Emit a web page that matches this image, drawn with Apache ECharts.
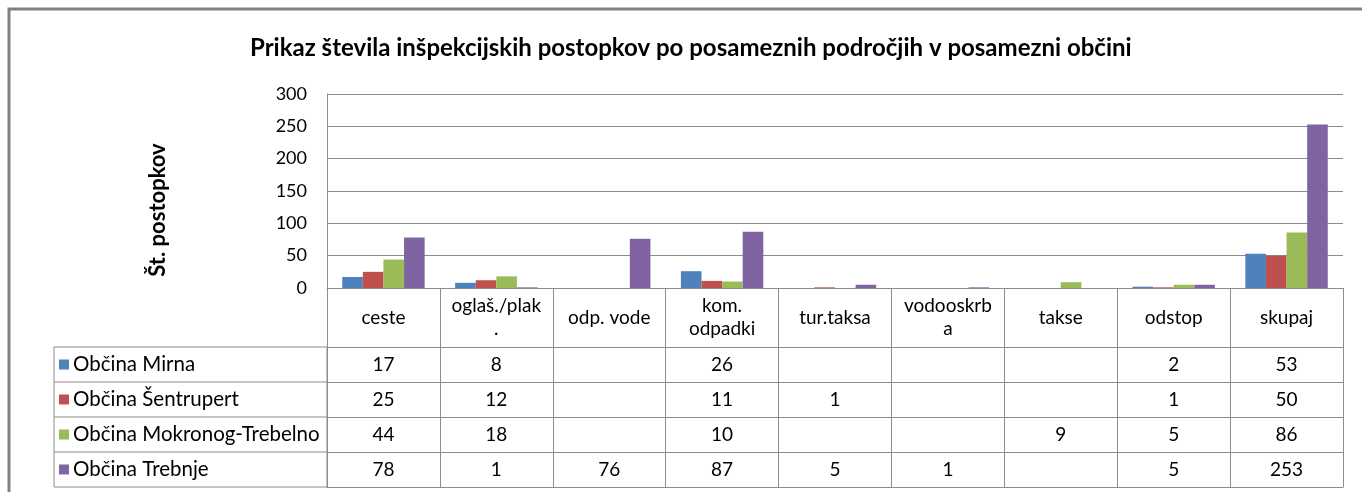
<!DOCTYPE html>
<html>
<head>
<meta charset="utf-8">
<script src="https://cdn.jsdelivr.net/npm/echarts@6/dist/echarts.min.js"></script>
<style>
  html, body { margin: 0; padding: 0; background: #fff; }
  #chart-panel { width: 1362px; height: 492px; }
</style>
</head>
<body>
<div id="chart-panel"></div>
<script>
// podatki
var categories = ['ceste', 'oglaš./plak.', 'odp. vode', 'kom. odpadki', 'tur.taksa', 'vodooskrba', 'takse', 'odstop', 'skupaj'];
var headerLabels = ['ceste', 'oglaš./plak\n.', 'odp. vode', 'kom.\nodpadki', 'tur.taksa', 'vodooskrb\na', 'takse', 'odstop', 'skupaj'];
var seriesNames = ['Občina Mirna', 'Občina Šentrupert', 'Občina Mokronog-Trebelno', 'Občina Trebnje'];
var mirna = [17, 8, null, 26, null, null, null, 2, 53];
var sentrupert = [25, 12, null, 11, 1, null, null, 1, 50];
var mokronog = [44, 18, null, 10, null, null, 9, 5, 86];
var trebnje = [78, 1, 76, 87, 5, 1, null, 5, 253];
var rows = [mirna, sentrupert, mokronog, trebnje];
var colors = ['#4F81BD', '#C0504D', '#9BBB59', '#8064A2'];

var W = 1362, H = 492;
var plotLeft = 327, plotRight = 1343, plotTop = 94, plotBottom = 288;
var headerH = 59, rowH = 35, legendLeft = 54;
var lineColor = '#8c8c8c';
var font = 'Lato';

var xAxes = [{
    type: 'category',
    data: categories,
    position: 'bottom',
    axisLine: { lineStyle: { color: lineColor } },
    axisTick: { show: true, interval: 0, length: headerH + rowH * rows.length, lineStyle: { color: lineColor } },
    axisLabel: {
        interval: 0,
        margin: headerH / 2,
        verticalAlign: 'middle',
        lineHeight: 23,
        fontSize: 19,
        fontFamily: font,
        color: '#000',
        formatter: function (v, idx) { return headerLabels[idx]; }
    }
}];

rows.forEach(function (row, i) {
    xAxes.push({
        type: 'category',
        data: categories,
        position: 'bottom',
        offset: headerH + rowH * i,
        axisLine: { lineStyle: { color: lineColor } },
        axisTick: { show: false },
        axisLabel: {
            interval: 0,
            margin: rowH / 2,
            verticalAlign: 'middle',
            fontSize: 19,
            fontFamily: font,
            color: '#000',
            formatter: function (v, idx) { return row[idx] == null ? '' : String(row[idx]); }
        }
    });
});
xAxes.push({
    type: 'category',
    data: categories,
    position: 'bottom',
    offset: headerH + rowH * rows.length,
    axisLine: { lineStyle: { color: lineColor } },
    axisTick: { show: false },
    axisLabel: { show: false }
});

// okvir stolpca z legendo
var tableTop = plotBottom + headerH;
var graphics = [{
    type: 'rect',
    shape: { x: 9, y: 9, width: W, height: H },
    style: { fill: null, stroke: '#808080', lineWidth: 3 },
    silent: true
}, {
    type: 'rect',
    shape: { x: legendLeft, y: tableTop, width: plotLeft - legendLeft, height: rowH * rows.length },
    style: { fill: null, stroke: lineColor, lineWidth: 1 },
    silent: true
}];
for (var i = 1; i < rows.length; i++) {
    graphics.push({
        type: 'line',
        shape: { x1: legendLeft, y1: tableTop + rowH * i, x2: plotLeft, y2: tableTop + rowH * i },
        style: { stroke: lineColor, lineWidth: 1 },
        silent: true
    });
}

var chartOption = {
    backgroundColor: '#fff',
    animation: false,
    color: colors,
    title: {
        text: 'Prikaz števila inšpekcijskih postopkov po posameznih področjih v posamezni občini',
        left: 250,
        top: 31,
        padding: [5, 0, 5, 0],
        textStyle: { fontSize: 24, fontWeight: 'bold', fontFamily: font, color: '#000' }
    },
    legend: {
        orient: 'vertical',
        left: legendLeft + 5,
        top: tableTop,
        padding: 0,
        itemGap: 0,
        itemWidth: 10,
        itemHeight: 10,
        icon: 'rect',
        data: seriesNames,
        textStyle: { fontSize: 20.5, fontFamily: font, color: '#000', lineHeight: rowH, padding: [0, 0, 0, -1] }
    },
    grid: {
        left: plotLeft,
        right: W - plotRight,
        top: plotTop,
        bottom: H - plotBottom
    },
    xAxis: xAxes,
    yAxis: {
        type: 'value',
        min: 0,
        max: 300,
        interval: 50,
        name: 'Št. postopkov',
        nameLocation: 'middle',
        nameRotate: 90,
        nameGap: 158,
        nameTextStyle: { fontSize: 22, fontWeight: 'bold', fontFamily: font, color: '#000', padding: [0, 38, 0, 0] },
        axisLine: { show: true, lineStyle: { color: lineColor } },
        axisTick: { show: false },
        axisLabel: { margin: 20, fontSize: 18, fontFamily: font, color: '#000' },
        splitLine: { lineStyle: { color: lineColor } }
    },
    series: seriesNames.map(function (name, i) {
        return {
            name: name,
            type: 'bar',
            xAxisIndex: 0,
            data: rows[i],
            barGap: 0,
            barCategoryGap: '27%'
        };
    }),
    graphic: graphics
};

var chartPanel = document.getElementById('chart-panel');
var myChart = echarts.init(chartPanel);
myChart.setOption(chartOption);
</script>
</body>
</html>
